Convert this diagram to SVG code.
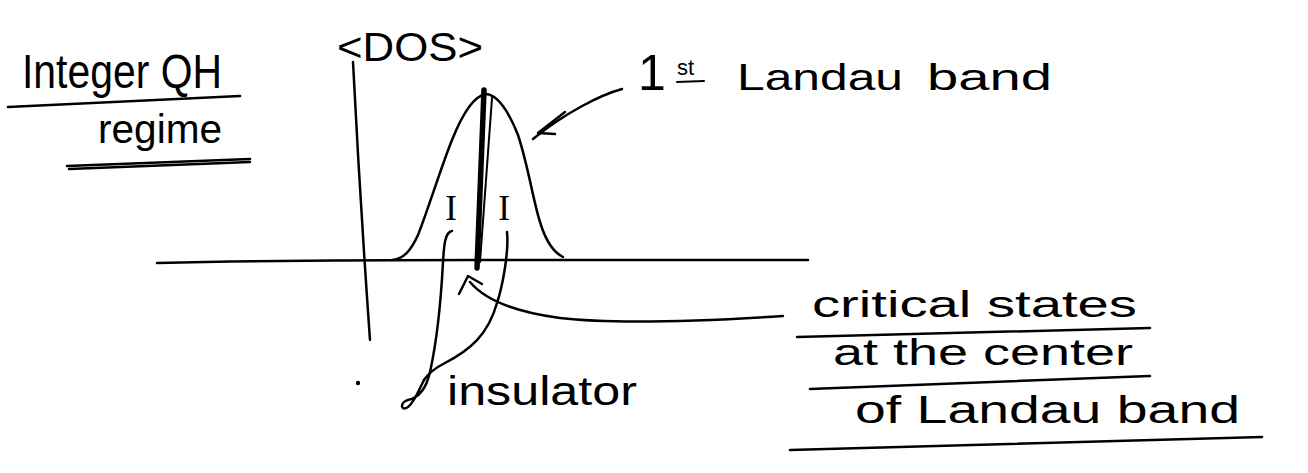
<svg xmlns="http://www.w3.org/2000/svg" width="1308" height="473" viewBox="0 0 1308 473">
<style>
.hw{font-family:"Liberation Sans","DejaVu Sans",sans-serif;fill:#000}
.ln{fill:none;stroke:#000;stroke-width:2.5;stroke-linecap:round;stroke-linejoin:round}
.thin{fill:none;stroke:#000;stroke-width:2;stroke-linecap:round}
.roman{font-family:"Liberation Serif","DejaVu Serif",serif;fill:#000}
</style>
<rect width="1308" height="473" fill="#fff"/>
<g id="title">
<text class="hw" x="22" y="88" font-size="48" textLength="200" lengthAdjust="spacingAndGlyphs">Integer QH</text>
<path class="ln" d="M8,107 L240,96"/>
<text class="hw" x="98" y="143" font-size="40" textLength="124" lengthAdjust="spacingAndGlyphs">regime</text>
<path class="ln" d="M67,166 L250,159 M69,169 L250,162"/>
</g>
<g id="axes">
<path class="ln" d="M353,62 Q360,200 370,340"/>
<path class="ln" d="M157,263 Q300,260 480,260 T808,260"/>
<circle cx="358" cy="383" r="2.2" fill="#000"/>
<text class="hw" x="337" y="61" font-size="40" textLength="146" lengthAdjust="spacingAndGlyphs">&lt;DOS&gt;</text>
</g>
<g id="band">
<path class="ln" d="M392,260 C405,259 412,248 418,235 C428,210 440,170 452,140 C462,115 473,96 486,94 C499,95 510,115 518,135 C528,165 533,200 540,222 C546,242 553,252 563,257"/>
<path d="M484,90 L477,268" stroke="#000" stroke-width="5.5" stroke-linecap="round" fill="none"/>
<path class="thin" d="M492,98 L480,262"/>
<text class="roman" x="451" y="220" font-size="35" text-anchor="middle">I</text>
<text class="roman" x="504" y="220" font-size="35" text-anchor="middle">I</text>
</g>
<g id="label-band">
<text class="hw" y="90" font-size="36"><tspan x="638" font-size="50">1</tspan><tspan x="677" y="75" font-size="22">st</tspan><tspan x="737" y="90" textLength="166" lengthAdjust="spacingAndGlyphs">Landau</tspan><tspan x="927" textLength="125" lengthAdjust="spacingAndGlyphs">band</tspan></text>
<path class="thin" d="M677,82 L704,81"/>
</g>
<g id="label-insulator">
<text class="hw" x="447" y="405" font-size="40" textLength="190" lengthAdjust="spacingAndGlyphs">insulator</text>
</g>
<g id="label-critical">
<text class="hw" x="812" y="317" font-size="37" textLength="325" lengthAdjust="spacingAndGlyphs">critical states</text>
<path class="ln" d="M797,337 L1150,328"/>
<text class="hw" x="833" y="365" font-size="37" textLength="300" lengthAdjust="spacingAndGlyphs">at the center</text>
<path class="ln" d="M810,389 L1150,376"/>
<text class="hw" x="855" y="423" font-size="38" textLength="385" lengthAdjust="spacingAndGlyphs">of Landau band</text>
<path class="ln" d="M790,450 L1262,437"/>
</g>
<g id="connectors">
<path class="ln" d="M622,89 C600,95 565,113 533,139"/>
<path class="ln" d="M565,112 L538,133 L555,134"/>
<path class="ln" d="M783,316 C720,320 620,325 560,318 C515,312 485,300 470,282"/>
<path class="ln" stroke-width="3.5" d="M459,294 L468,276 L482,284"/>
<path class="ln" d="M452,231 C445,232 444,245 443,262 C441,300 436,345 430,372 C426,390 418,398 408,400 C400,402 400,412 408,407 C414,403 418,392 424,380"/>
<path class="ln" d="M507,232 C509,250 503,285 497,303 C488,335 470,350 445,363 C435,368 428,374 424,380"/>
</g>
</svg>
